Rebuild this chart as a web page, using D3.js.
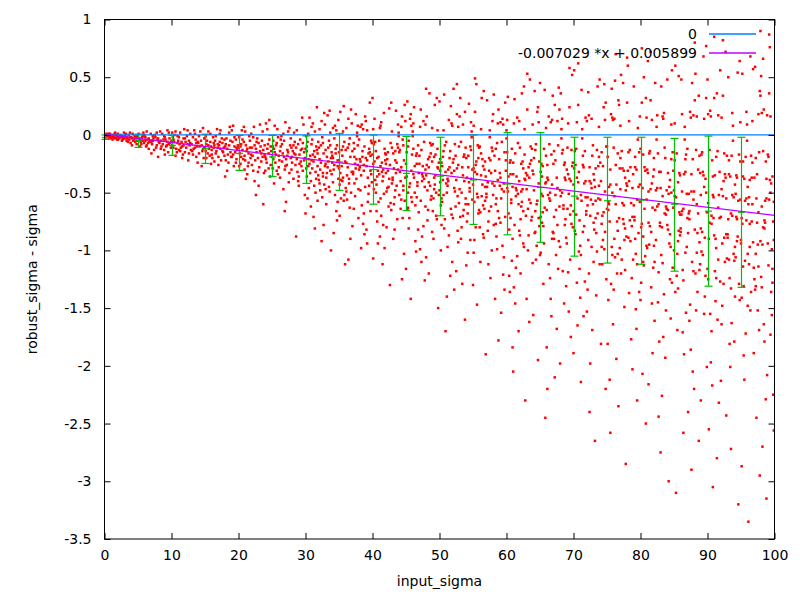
<!DOCTYPE html>
<html><head><meta charset="utf-8">
<script src="https://cdn.jsdelivr.net/npm/d3@7/dist/d3.min.js"></script>
<style>body{margin:0;background:#fff}svg{display:block}</style>
</head><body><svg id="chart" width="800" height="600"></svg>
<script>
// ---- data ----
const xTicks = [0,10,20,30,40,50,60,70,80,90,100];
const yTicks = [1,0.5,0,-0.5,-1,-1.5,-2,-2.5,-3,-3.5];
const xLabel = "input_sigma";
const yLabel = "robust_sigma - sigma";
const legendLabels = ["0", "-0.007029 *x + 0.005899"];
const zeroLevel = 0;
const fitSlope = -0.007029;
const fitIntercept = 0.005899;
const errX    = [0,5,10,15,20,25,30,35,40,45,50,55,60,65,70,75,80,85,90,95];
const errHigh = [0,0.007,-0.004,0.007,-0.004,-0.004,-0.008,0.013,0,-0.013,-0.02,0,0.02,0.02,-0.02,-0.02,-0.02,-0.03,-0.01,-0.02];
const errMid  = [-0.022,-0.05,-0.09,-0.12,-0.16,-0.19,-0.21,-0.235,-0.3,-0.333,-0.357,-0.39,-0.425,-0.455,-0.53,-0.57,-0.565,-0.6,-0.66,-0.67];
const errLow  = [-0.039,-0.108,-0.177,-0.247,-0.307,-0.36,-0.42,-0.48,-0.6,-0.655,-0.7,-0.775,-0.865,-0.93,-1.05,-1.11,-1.12,-1.18,-1.31,-1.32];
const points = [
[.1,0],[.4,-.01],[.6,.01],[1.2,-.02],[.9,-.01],[1.7,0],[2.2,-.03],[1.4,-.02],[3.1,-.01],[2.7,-.04],[.3,.01],[3.8,-.02],[4.6,-.06],[2,.01],[4.1,-.03],[3.3,-.05],[1,-.03],[4.9,-.01],[2.5,-.02],[3.6,0],[.7,-.02],[4.4,-.04],[1.9,-.04],[2.9,.02],[3.9,-.07],[1.5,.01],[4.7,-.03],[2.3,-.01],[.2,-.02],[3.4,-.03],[4.2,.01],[1.1,0],[2.6,-.05],[3,-.03],[4.8,-.08],[1.6,-.03],[.8,.01],[3.7,-.04],[2.1,-.02],[4.3,-.05],[1.3,-.01],[2.8,-.03],[4,-.02],[.5,-.01],[3.2,.01],[4.5,-.01],[1.8,-.02],[2.4,0],[3.5,-.06],[4.9,-.05],[.6,-.03],[2,-.04],[3.8,.02],[1.2,-.04],[4.1,-.09],[2.7,-.01],[.9,0],[3.3,-.02],[4.6,-.02],[1.6,.02],
[5.3,-.04],[7.8,-.09],[6.1,-.02],[9.4,-.06],[5.9,-.07],[8.6,.01],[7.2,-.05],[9.9,-.11],[6.6,-.03],[5.1,.01],[8.2,-.07],[7.5,0],[9.1,-.04],[6.3,-.09],[8.9,-.13],[5.6,-.02],[7,-.06],[9.6,.02],[6.8,-.05],[8,-.03],[5.4,-.06],[9.3,-.09],[7.7,-.11],[6,-.01],[8.4,-.05],[5.8,.02],[9.8,-.07],[7.3,-.03],[6.5,-.07],[8.7,-.08],[5.2,-.03],[9,-.02],[7.9,-.04],[6.2,-.1],[8.3,.03],[5.7,-.05],[9.5,-.15],[7.1,-.08],[6.9,.01],[8.8,-.04],[5,-.02],[9.2,-.1],[7.6,-.02],[6.4,-.04],[8.5,-.1],[5.5,-.08],[9.7,-.03],[7.4,-.13],[6.7,-.06],[8.1,-.06],[5.9,0],[9.4,.04],[7,-.16],[6.1,-.05],[8.9,-.01],[5.3,-.1],[9,-.17],[7.8,.02],[6.6,-.12],[8.4,-.12],[5.7,-.01],[9.6,-.08],[7.2,-.01],[6.3,.03],[8,-.19],
[12.4,-.08],[10.3,-.04],[14.7,-.12],[11.6,-.1],[13.2,-.02],[10.9,-.07],[14.1,-.16],[12.8,.01],[11.1,-.13],[13.9,-.06],[10.5,0],[14.5,-.09],[12,-.15],[11.8,-.03],[13.5,-.11],[10.1,-.09],[14.9,-.03],[12.6,-.05],[11.3,.02],[13.7,-.19],[10.7,-.12],[14.3,.03],[12.2,-.11],[11.5,-.06],[13,-.08],[10.2,-.02],[14.8,-.2],[12.9,-.13],[11,-.05],[13.4,.04],[10.8,-.15],[14,-.07],[12.3,-.01],[11.7,-.17],[13.6,-.04],[10.4,-.06],[14.6,-.14],[12.7,-.09],[11.2,-.08],[13.1,-.14],[10.6,.03],[14.2,-.1],[12.1,-.06],[11.9,.05],[13.8,-.1],[10,-.05],[14.4,-.05],[12.5,-.22],[11.4,-.11],[13.3,-.12],[10.9,-.01],[14.7,.06],[12,-.03],[11.6,-.2],[13.9,-.24],[10.3,-.11],[14.1,-.01],[12.8,-.07],[11.1,-.02],[13.5,.01],[10.6,-.18],[14.9,-.11],[12.4,.04],[11.8,-.09],[13.2,-.17],[10.1,.02],[14.5,-.27],[12.6,-.16],[11.3,-.14],[13.7,-.07],
[17.3,-.12],[15.8,-.06],[19.2,-.17],[16.4,-.09],[18.6,.02],[15.1,-.14],[17.9,-.04],[19.7,-.21],[16.9,-.11],[18.1,-.08],[15.5,.03],[17,-.19],[19.4,-.1],[16.2,-.02],[18.8,-.15],[15.9,-.1],[17.6,-.07],[19,.04],[16.6,-.16],[18.3,-.12],[15.3,-.05],[17.2,.01],[19.8,-.13],[16,-.13],[18.5,-.24],[15.7,-.18],[17.7,-.15],[19.1,-.06],[16.8,.05],[18,-.1],[15.2,-.08],[17.4,-.22],[19.6,-.04],[16.3,-.07],[18.9,-.19],[15.6,-.12],[17.1,-.09],[19.3,-.27],[16.7,-.14],[18.2,-.03],[15,-.03],[17.8,-.11],[19.9,-.09],[16.1,-.2],[18.7,.07],[15.4,-.16],[17.5,-.03],[19.5,-.15],[16.5,-.05],[18.4,-.17],[15.8,.01],[17,-.26],[19.2,.08],[16.9,-.08],[18.1,-.22],[15.2,-.2],[17.6,-.14],[19.7,-.11],[16.3,-.11],[18.6,-.09],[15.9,-.25],[17.3,.04],[19,-.19],[16.6,-.01],[18.3,-.31],[15.5,-.09],[17.9,-.18],[19.4,-.02],[16,-.17],[18.8,-.05],[15.1,-.01],[17.2,-.06],[19.6,-.24],[16.4,-.23],[18,-.36],
[22.7,-.15],[20.4,-.08],[24.1,-.21],[21.3,-.12],[23.6,.03],[20.9,-.18],[24.8,-.1],[22,-.26],[21.7,-.05],[23.2,-.14],[20.1,-.02],[24.5,-.29],[22.4,-.09],[21,-.22],[23.9,-.17],[20.6,-.13],[24.3,.05],[22.9,-.2],[21.5,-.16],[23,-.07],[20.3,-.25],[24.9,-.14],[22.2,-.31],[21.9,.01],[23.4,-.23],[20.8,-.06],[24,-.19],[22.6,-.12],[21.1,-.09],[23.8,-.33],[20,-.11],[24.6,-.04],[22.1,-.18],[21.4,-.27],[23.3,-.1],[20.5,.04],[24.2,-.24],[22.8,-.03],[21.8,-.2],[23.7,-.13],[20.2,-.16],[24.7,-.36],[22.3,.07],[21.2,-.14],[23.1,-.28],[20.7,-.21],[24.4,-.08],[22.5,-.22],[21.6,-.01],[23.5,-.05],[20.9,-.3],[24.1,.1],[22,-.11],[21.3,-.34],[23.9,-.09],[20.4,-.19],[24.8,-.26],[22.7,-.06],[21,.03],[23.6,-.19],[20.6,-.04],[24.5,-.16],[22.4,-.4],[21.7,-.11],[23.2,.09],[20.1,-.27],[24.3,-.12],[22.9,-.32],[21.5,-.24],[23,-.44],[20.8,.07],[24,-.31],[22.2,-.02],[21.9,-.17],[23.4,-.16],[20.3,-.1],[24.6,.13],[22.6,-.52],[21.1,-.38],[23.7,-.6],
[27.3,-.18],[25.6,-.09],[29.1,-.25],[26.2,-.14],[28.7,.04],[25.2,-.21],[27.9,-.11],[29.6,-.31],[26.8,-.05],[28.3,-.16],[25.9,-.02],[27,-.27],[29.3,-.13],[26.5,-.23],[28,-.19],[25.4,-.15],[27.6,.06],[29.8,-.22],[26,-.18],[28.9,-.08],[25.1,-.29],[27.4,-.15],[29,-.36],[26.7,.01],[28.5,-.26],[25.7,-.07],[27.1,-.21],[29.5,-.12],[26.3,-.1],[28.2,-.38],[25.3,-.12],[27.8,-.03],[29.9,-.2],[26.9,-.3],[28.6,-.11],[25.8,.05],[27.2,-.26],[29.2,-.04],[26.1,-.22],[28.1,-.14],[25,-.19],[27.5,-.41],[29.7,.09],[26.6,-.16],[28.8,-.32],[25.5,-.24],[27.7,-.09],[29.4,-.27],[26.4,-.01],[28.4,-.06],[25.9,-.34],[27,.11],[29.1,-.17],[26.2,-.37],[28.7,-.21],[25.2,-.05],[27.9,-.3],[29.6,-.07],[26.8,-.19],[28.3,.02],[25.6,-.17],[27.3,-.13],[29,-.44],[26.5,-.08],[28,-.24],[25.4,.08],[27.6,-.33],[29.8,-.15],[26,-.28],[28.9,-.4],[25.1,-.1],[27.4,.03],[29.3,-.23],[26.7,-.47],[28.5,-.17],[25.7,-.31],[27.1,-.58],[29.5,.15],[26.3,-.04],[28.2,-.09],[25.3,-.42],[27.8,-.2],[29.9,-.52],[26.9,-.66],[28.6,-.88],
[30.2,-.14],[33.7,-.31],[31.4,.03],[34.8,-.22],[32.1,-.42],[30.9,-.08],[33.2,-.19],[34.1,.06],[31.8,-.27],[32.6,-.36],[30.5,-.21],[34.5,-.12],[33,-.47],[31.1,-.17],[32.9,.09],[30.7,-.33],[34.3,-.26],[31.6,-.1],[33.5,-.05],[32.3,-.24],[30.1,-.29],[34.9,-.38],[31.3,-.44],[33.9,-.15],[32.5,-.02],[30.4,.01],[34,-.18],[31.9,-.35],[33.3,-.28],[32,-.11],[30.8,-.4],[34.6,.04],[31.2,-.23],[33.6,-.49],[32.7,-.16],[30.3,-.06],[34.2,-.3],[31.7,-.13],[33.1,-.37],[32.4,.12],[30.6,-.25],[34.7,-.09],[31.5,-.32],[33.8,-.2],[32.8,-.43],[30,-.12],[34.4,-.52],[31,-.04],[33.4,-.23],[32.2,-.3],[30.9,.07],[34.8,-.27],[31.8,-.57],[33,-.13],[32.6,-.07],[30.2,-.36],[34.1,-.41],[31.4,-.19],[33.7,.02],[32.1,-.21],[30.5,-.46],[34.5,-.16],[31.1,.1],[33.2,-.33],[32.9,-.27],[30.7,-.18],[34.3,-.03],[31.6,-.38],[33.5,-.45],[32.3,-.09],[30.4,-.27],[34.9,.13],[31.3,-.14],[33.9,-.34],[32.5,-.54],[30.1,-.01],[34,-.24],[31.9,-.06],[33.3,.17],[32,-.39],[30.8,-.62],[34.6,-.66],[31.2,-.71],[33.6,.21],[32.7,-.78],[30.3,-.55],[34.2,-.85],[31.7,.24],[33.1,-.6],[32.4,-.92],[30.6,.15],[34.7,-.74],[31.5,-.5],[33.8,-1],[32.8,.19],[30,-.68],[34.4,.08],[31,-.29],[33.4,-.11],[32.2,-.48],[30.9,-.22],[34.8,-.58],[31.8,-.16],[33,-.25],[32.6,-.33],[30.2,-.1],[34.1,-.2],[31.4,-.81],[33.7,-.09],[32.1,.05],
[37.3,-.19],[35.6,-.37],[39.2,.04],[38.7,-.26],[36.1,-.49],[37.8,-.09],[35,-.22],[38.2,.07],[39.7,-.31],[36.5,-.42],[37.4,-.25],[38.5,-.14],[35.3,-.55],[39,-.2],[36.9,.1],[37.6,-.38],[38,-.3],[39.5,-.12],[35.8,-.06],[36.3,-.28],[37.1,-.34],[38.9,-.45],[39.4,-.51],[35.5,-.18],[36.6,-.03],[37.7,.02],[38.1,-.21],[39.9,-.41],[35.2,-.33],[36,-.13],[37.9,-.47],[38.6,.05],[39.1,-.27],[35.7,-.57],[36.7,-.19],[37.2,-.07],[38.3,-.35],[39.6,-.15],[35.1,-.43],[36.4,.14],[37.5,-.29],[38.8,-.1],[39.3,-.37],[35.9,-.23],[36.8,-.5],[37,-.14],[38.4,-.61],[39.8,-.05],[35.4,-.27],[36.2,-.35],[37.8,.08],[38.7,-.31],[39.7,-.66],[35,-.15],[36.5,-.08],[37.3,-.42],[38.2,-.48],[39.2,-.22],[35.6,.03],[36.1,-.24],[37.4,-.53],[38.5,-.19],[39,.12],[35.3,-.39],[36.9,-.32],[37.6,-.21],[38,-.04],[39.5,-.44],[35.8,-.52],[36.3,-.11],[37.1,-.32],[38.9,.16],[39.4,-.16],[35.5,-.4],[36.6,-.63],[37.7,-.01],[38.1,-.28],[39.9,-.07],[35.2,.2],[36,-.46],[37.9,-.72],[38.6,-.77],[39.1,-.82],[35.7,.25],[36.7,-.9],[37.2,-.64],[38.3,-.98],[39.6,.28],[35.1,-.7],[36.4,-1.08],[37.5,.18],[38.8,-.86],[39.3,-.58],[35.9,-1.12],[36.8,.22],[37,-.79],[38.4,.09],[39.8,-.34],[35.4,-.13],[36.2,-.56],[37.8,-.26],[38.7,-.68],[39.7,-.18],[35,-.29],[36.5,-.38],[37.3,-.12],[38.2,-.23],[39.2,-.94],[35.6,-.1],[36.1,.06],
[43.4,-.22],[42.9,-.42],[40.1,.05],[41.6,-.3],[44.3,-.56],[43.8,-.11],[42,-.25],[41.2,.08],[40.7,-.36],[44.6,-.48],[43.2,-.29],[41.9,-.16],[42.4,-.62],[40.3,-.23],[44.9,.12],[43.6,-.44],[41,-.34],[40.5,-.14],[42.7,-.07],[44.1,-.32],[43,-.39],[41.7,-.51],[40.9,-.58],[42.2,-.21],[44.5,-.04],[43.9,.02],[41.4,-.24],[40.2,-.47],[42.5,-.38],[44,-.15],[43.3,-.54],[41.1,.06],[40.8,-.31],[42.8,-.65],[44.7,-.22],[43.7,-.08],[41.5,-.4],[40,-.17],[42.1,-.49],[44.4,.16],[43.5,-.33],[41.8,-.12],[40.6,-.43],[42.6,-.26],[44.8,-.57],[43.1,-.16],[41.3,-.7],[40.4,-.06],[42.3,-.31],[44.2,-.4],[43.8,.09],[41.6,-.36],[40.7,-.75],[42,-.17],[44.6,-.09],[43.4,-.48],[41.2,-.55],[40.1,-.25],[42.9,.03],[44.3,-.28],[43.2,-.6],[41.9,-.22],[40.3,.14],[42.4,-.45],[44.9,-.37],[43.6,-.24],[41,-.05],[40.5,-.5],[42.7,-.59],[44.1,-.13],[43,-.37],[41.7,.19],[40.9,-.19],[42.2,-.46],[44.5,-.72],[43.9,-.01],[41.4,-.32],[40.2,-.08],[42.5,.23],[44,-.52],[43.3,-.82],[41.1,-.88],[40.8,-.94],[42.8,.28],[44.7,-1.03],[43.7,-.73],[41.5,-1.12],[40,.32],[42.1,-.8],[44.4,-1.25],[43.5,.21],[41.8,-.98],[40.6,-.66],[42.6,-1.3],[44.8,.26],[43.1,-.9],[41.3,.11],[40.4,-.39],[42.3,-.15],[44.2,-.64],[43.8,-.3],[41.6,-.78],[40.7,-.2],[42,-.33],[44.6,-.44],[43.4,-.14],[41.2,-.27],[40.1,-1.07],[42.9,-.11],[44.3,.07],
[46.6,-.25],[49.2,-.47],[48.9,.06],[47.4,-.34],[45.3,-.63],[46.1,-.12],[49.7,-.28],[47.9,.09],[48.4,-.41],[45.8,-.54],[46.9,-.33],[47,-.18],[49.5,-.7],[48.1,-.26],[45.6,.14],[46.3,-.5],[47.7,-.38],[48.7,-.16],[49,-.08],[45.1,-.36],[46.7,-.44],[47.2,-.57],[48.3,-.65],[49.9,-.24],[45.4,-.05],[46,.03],[47.5,-.27],[48.8,-.53],[49.3,-.43],[45.9,-.17],[46.4,-.61],[47.1,.07],[48,-.35],[49.6,-.73],[45,-.25],[46.8,-.09],[47.8,-.45],[48.5,-.19],[49.1,-.55],[45.7,.18],[46.2,-.37],[47.3,-.13],[48.2,-.48],[49.8,-.29],[45.2,-.64],[46.5,-.18],[47.6,-.79],[48.6,-.07],[49.4,-.35],[45.5,-.45],[46.1,.1],[47.4,-.4],[48.9,-.84],[49.2,-.19],[45.3,-.1],[46.6,-.54],[47.9,-.62],[48.4,-.28],[49.7,.04],[45.8,-.31],[46.9,-.67],[47,-.25],[48.1,.16],[49.5,-.5],[45.6,-.42],[46.3,-.27],[47.7,-.06],[48.7,-.56],[49,-.66],[45.1,-.15],[46.7,-.41],[47.2,.22],[48.3,-.21],[49.9,-.52],[45.4,-.81],[46,-.01],[47.5,-.36],[48.8,-.09],[49.3,.26],[45.9,-.58],[46.4,-.92],[47.1,-.99],[48,-1.06],[49.6,.32],[45,-1.16],[46.8,-.82],[47.8,-1.26],[48.5,.36],[49.1,-.9],[45.7,-1.42],[46.2,.24],[47.3,-1.1],[48.2,-.74],[49.8,-1.5],[45.2,.29],[46.5,-1.01],[47.6,.12],[48.6,-.44],[49.4,-.17],[45.5,-.72],[46.1,-.34],[47.4,-.88],[48.9,-.23],[49.2,-.37],[45.3,-.5],[46.6,-.16],[47.9,-.3],[48.4,-1.2],[49.7,-.12],[45.8,.08],[48,.4],
[54.3,-.28],[50.6,-.52],[52.8,.07],[51.2,-.38],[53.5,-.7],[54.7,-.13],[50.1,-.31],[51.8,.1],[52.2,-.46],[53.9,-.6],[54.1,-.37],[51.5,-.2],[50.3,-.78],[52.6,-.29],[53,.16],[54.9,-.56],[51,-.42],[52.4,-.18],[50.8,-.09],[53.7,-.4],[54.5,-.49],[51.7,-.64],[52,-.72],[50.4,-.27],[53.2,-.06],[54.8,.03],[51.3,-.3],[52.9,-.59],[50,-.48],[53.6,-.19],[54.2,-.68],[51.9,.08],[52.5,-.39],[50.7,-.81],[53.4,-.28],[54.6,-.1],[51.1,-.5],[52.1,-.21],[50.2,-.61],[53.8,.2],[54.4,-.41],[51.6,-.14],[52.7,-.53],[50.9,-.32],[53.1,-.71],[54,-.2],[51.4,-.87],[52.3,-.08],[50.5,-.39],[53.3,-.5],[54.7,.11],[51.2,-.44],[52.8,-.93],[50.1,-.21],[53.9,-.11],[54.3,-.6],[51.8,-.69],[52.2,-.31],[50.6,.04],[53.5,-.35],[54.1,-.75],[51.5,-.28],[52.6,.18],[50.3,-.55],[53,-.47],[54.9,-.3],[51,-.06],[52.4,-.62],[50.8,-.73],[53.7,-.17],[54.5,-.46],[51.7,.25],[52,-.24],[50.4,-.58],[53.2,-.9],[54.8,-.02],[51.3,-.4],[52.9,-.1],[50,.29],[53.6,-.65],[54.2,-1.02],[51.9,-1.1],[52.5,-1.18],[50.7,.35],[53.4,-1.29],[54.6,-.91],[51.1,-1.4],[52.1,.4],[50.2,-1],[53.8,-1.6],[54.4,.27],[51.6,-1.22],[52.7,-.83],[50.9,-1.7],[53.1,.32],[54,-1.13],[51.4,.13],[52.3,-.49],[50.5,-.19],[53.3,-.8],[54.7,-.38],[51.2,-.97],[52.8,-.26],[50.1,-.41],[53.9,-.55],[54.3,-.18],[51.8,-.33],[52.2,-1.34],[50.6,-.14],[53.5,.09],[52.6,.44],[50.3,-.24],
[57.4,-.31],[56.8,-.57],[55.1,.08],[59.6,-.42],[58.4,-.77],[57.9,-.14],[56.2,-.35],[59.1,.11],[55.6,-.51],[58.7,-.66],[57.2,-.41],[59.9,-.22],[56.5,-.86],[55.3,-.32],[58,.18],[57.7,-.62],[59.3,-.47],[55.8,-.2],[56,-.1],[58.2,-.44],[57,-.54],[59.8,-.71],[55.4,-.8],[56.7,-.3],[58.6,-.07],[57.5,.04],[59,-.33],[55.9,-.65],[56.3,-.53],[58.9,-.21],[57.3,-.75],[59.5,.09],[55,-.43],[56.6,-.89],[58.3,-.31],[57.8,-.11],[59.2,-.55],[55.5,-.23],[56.1,-.67],[58.8,.22],[57.1,-.45],[59.7,-.15],[55.2,-.58],[56.9,-.36],[58.1,-.78],[57.6,-.22],[59.4,-.96],[55.7,-.09],[56.4,-.43],[58.5,-.55],[57.9,.12],[59.6,-.49],[55.1,-1.02],[56.8,-.23],[58.4,-.12],[57.4,-.66],[59.1,-.76],[55.6,-.34],[56.2,.05],[58.7,-.39],[57.2,-.83],[59.9,-.31],[55.3,.2],[56.5,-.61],[58,-.52],[57.7,-.33],[59.3,-.06],[55.8,-.68],[56,-.8],[58.2,-.18],[57,-.51],[59.8,.28],[55.4,-.26],[56.7,-.64],[58.6,-.99],[57.5,-.02],[59,-.44],[55.9,-.11],[56.3,.32],[58.9,-.72],[57.3,-1.12],[59.5,-1.21],[55,-1.3],[56.6,.38],[58.3,-1.42],[57.8,-1],[59.2,-1.54],[55.5,.44],[56.1,-1.1],[58.8,-1.78],[57.1,.3],[59.7,-1.34],[55.2,-.91],[56.9,-1.9],[58.1,.35],[57.6,-1.24],[59.4,.14],[55.7,-.54],[56.4,-.21],[58.5,-.88],[57.9,-.42],[59.6,-1.06],[55.1,-.29],[56.8,-.45],[58.4,-.6],[57.4,-.2],[59.1,-.37],[55.6,-1.47],[56.2,-.16],[58.7,.1],[55.3,.49],[56.5,-.27],
[60.6,-.34],[62.2,-.62],[63.9,.09],[61.4,-.46],[64.3,-.84],[60.1,-.15],[62.7,-.38],[61.9,.12],[63.4,-.56],[64.8,-.72],[60.9,-.45],[61,-.24],[62.5,-.94],[63.1,-.35],[64.6,.2],[60.3,-.68],[61.7,-.51],[63.7,-.22],[62,-.11],[64.1,-.48],[60.7,-.59],[61.2,-.78],[63.3,-.87],[62.9,-.33],[64.4,-.08],[60,.04],[61.5,-.36],[63.8,-.71],[62.3,-.58],[64.9,-.23],[60.4,-.82],[61.1,.1],[63,-.47],[62.6,-.97],[64,-.34],[60.8,-.12],[61.8,-.6],[63.5,-.25],[62.1,-.73],[64.7,.24],[60.2,-.49],[61.3,-.16],[63.2,-.64],[62.8,-.39],[64.2,-.85],[60.5,-.24],[61.6,-1.05],[63.6,-.1],[62.4,-.47],[64.5,-.6],[60.1,.13],[61.4,-.53],[63.9,-1.11],[62.2,-.25],[64.3,-.13],[60.6,-.72],[61.9,-.83],[63.4,-.37],[62.7,.05],[64.8,-.42],[60.9,-.9],[61,-.34],[63.1,.22],[62.5,-.66],[64.6,-.57],[60.3,-.36],[61.7,-.07],[63.7,-.74],[62,-.87],[64.1,-.2],[60.7,-.56],[61.2,.31],[63.3,-.28],[62.9,-.7],[64.4,-1.08],[60,-.03],[61.5,-.48],[63.8,-.12],[62.3,.36],[64.9,-.79],[60.4,-1.22],[61.1,-1.32],[63,-1.42],[62.6,.42],[64,-1.56],[60.8,-1.09],[61.8,-1.7],[63.5,.48],[62.1,-1.2],[64.7,-1.95],[60.2,.33],[61.3,-1.46],[63.2,-1],[62.8,-2.3],[64.2,.38],[60.5,-1.36],[61.6,.15],[63.6,-.59],[62.4,-.23],[64.5,-.96],[60.1,-.46],[61.4,-1.15],[63.9,-.31],[62.2,-.49],[64.3,-.66],[60.6,-.22],[61.9,-.4],[63.4,-1.62],[62.7,-.17],[64.8,.11],[63.1,.53],[62.5,-.29],[60.9,-1.84],[61,-2.05],
[68.7,-.37],[65.4,-.67],[69.2,.1],[66.5,-.5],[67.1,-.9],[68.3,-.16],[65.9,-.41],[66.8,.13],[69.6,-.61],[67.6,-.78],[68,-.48],[66.1,-.26],[65.1,-1.02],[69.4,-.38],[67.9,.22],[68.8,-.73],[66.4,-.55],[69.9,-.24],[65.6,-.12],[67.3,-.52],[68.5,-.64],[66.9,-.84],[69,-.94],[65.3,-.36],[67.7,-.09],[68.2,.05],[66.2,-.39],[69.7,-.77],[65.7,-.63],[67,-.25],[68.9,-.89],[66.6,.11],[69.3,-.51],[65,-1.04],[67.5,-.37],[68.4,-.13],[66,-.65],[69.8,-.27],[65.5,-.79],[67.2,.26],[68.1,-.53],[66.7,-.17],[69.5,-.69],[65.8,-.42],[67.8,-.92],[68.6,-.26],[66.3,-1.12],[69.1,-.11],[65.2,-.51],[67.4,-.65],[68.3,.14],[66.5,-.57],[69.2,-1.19],[65.4,-.27],[67.1,-.14],[68.7,-.78],[66.8,-.9],[69.6,-.4],[65.9,.06],[67.6,-.46],[68,-.97],[66.1,-.37],[69.4,.24],[65.1,-.71],[67.9,-.62],[68.8,-.39],[66.4,-.08],[69.9,-.8],[65.6,-.94],[67.3,-.22],[68.5,-.61],[66.9,.34],[69,-.3],[65.3,-.76],[67.7,-1.16],[68.2,-.03],[66.2,-.52],[69.7,-.13],[65.7,.39],[67,-.85],[68.9,-1.31],[66.6,-1.42],[69.3,-1.53],[65,.45],[67.5,-1.68],[68.4,-1.18],[66,-1.84],[69.8,.52],[65.5,-1.29],[67.2,-2.1],[68.1,.36],[66.7,-1.57],[69.5,-1.08],[65.8,-2.45],[67.8,.41],[68.6,-1.46],[66.3,.16],[69.1,-.64],[65.2,-.25],[67.4,-1.04],[68.3,-.5],[66.5,-1.24],[69.2,-.34],[65.4,-.53],[67.1,-.71],[68.7,-.24],[66.8,-.43],[69.6,-1.75],[65.9,-.18],[67.6,.12],[69.4,.58],[65.1,-.32],[68,-1.98],[66.1,-2.2],
[71.8,-.4],[73.3,-.72],[70.5,.11],[72.1,-.54],[74.2,-.97],[71.4,-.18],[73.8,-.44],[72.7,.14],[70,-.66],[74.7,-.84],[71.1,-.52],[72.4,-.28],[73,-1.1],[70.7,-.41],[74.5,.24],[71.6,-.79],[72.9,-.6],[70.3,-.26],[73.5,-.13],[74,-.56],[71.9,-.69],[72.2,-.91],[70.8,-1.01],[73.1,-.39],[74.9,-.1],[71.3,.05],[72.6,-.42],[70.2,-.83],[73.6,-.68],[74.4,-.27],[71,-.96],[72,.12],[70.6,-.55],[73.9,-1.12],[74.1,-.4],[71.7,-.14],[72.5,-.7],[70.1,-.29],[73.4,-.85],[74.8,.28],[71.2,-.57],[72.8,-.18],[70.9,-.74],[73.2,-.45],[74.6,-.99],[71.5,-.28],[72.3,-1.2],[70.4,-.12],[73.7,-.55],[74.3,-.7],[71.8,.15],[72.1,-.61],[70.5,-1.28],[73.3,-.29],[74.2,-.15],[71.4,-.84],[72.7,-.97],[70,-.43],[73.8,.07],[74.7,-.49],[71.1,-1.04],[72.4,-.4],[70.7,.26],[73,-.76],[74.5,-.67],[71.6,-.42],[72.9,-.09],[70.3,-.86],[73.5,-1.01],[74,-.24],[71.9,-.66],[72.2,.37],[70.8,-.32],[73.1,-.82],[74.9,-1.25],[71.3,-.03],[72.6,-.56],[70.2,-.14],[73.6,.42],[74.4,-.91],[71,-1.41],[72,-1.53],[70.6,-1.65],[73.9,.48],[74.1,-1.81],[71.7,-1.27],[72.5,-1.98],[70.1,.56],[73.4,-1.39],[74.8,-2.2],[71.2,.39],[72.8,-1.69],[70.9,-1.16],[73.2,-2.65],[74.6,.44],[71.5,-1.57],[72.3,.17],[70.4,-.69],[73.7,-.27],[74.3,-1.12],[71.8,-.54],[72.1,-1.34],[70.5,-.37],[73.3,-.57],[74.2,-.77],[71.4,-.26],[72.7,-.46],[70,-1.89],[73.8,-.19],[74.7,.13],[70.7,.62],[73,-.34],[71.1,-2.14],[72.4,-2.4],
[79.9,-.43],[77.5,-.77],[78.3,.12],[75.2,-.58],[76.6,-1.03],[79.2,-.19],[77,-.47],[75.8,.15],[78.8,-.71],[76.1,-.9],[79.5,-.56],[75.5,-.3],[77.7,-1.17],[78,-.44],[76.8,.26],[79.7,-.85],[75,-.64],[78.5,-.28],[77.2,-.14],[76.3,-.6],[79.1,-.74],[75.7,-.97],[78.9,-1.08],[77.9,-.42],[76,-.11],[79.6,.06],[75.3,-.45],[78.2,-.89],[77.4,-.73],[76.9,-.29],[79.3,-1.03],[75.9,.13],[78.6,-.59],[77.1,-1.2],[76.4,-.43],[79.8,-.15],[75.4,-.75],[78.1,-.31],[77.6,-.91],[76.7,.3],[79,-.61],[75.1,-.19],[78.7,-.79],[77.8,-.48],[76.2,-1.06],[79.4,-.3],[75.6,-1.29],[78.4,-.13],[77.3,-.59],[76.5,-.75],[79.9,.16],[75.2,-.65],[78.3,-1.37],[77.5,-.31],[76.6,-.16],[79.2,-.9],[75.8,-1.04],[78.8,-.46],[77,.08],[76.1,-.53],[79.5,-1.12],[75.5,-.43],[78,.28],[77.7,-.81],[76.8,-.72],[79.7,-.45],[75,-.1],[78.5,-.92],[77.2,-1.08],[76.3,-.26],[79.1,-.71],[75.7,.4],[78.9,-.34],[77.9,-.88],[76,-1.34],[79.6,-.04],[75.3,-.6],[78.2,-.15],[77.4,.45],[76.9,-.98],[79.3,-1.51],[75.9,-1.64],[78.6,-1.77],[77.1,.52],[76.4,-1.94],[79.8,-1.36],[75.4,-2.12],[78.1,.6],[77.6,-1.49],[76.7,-2.35],[79,.42],[75.1,-1.81],[78.7,-1.24],[77.8,-2.85],[76.2,.47],[79.4,-1.68],[75.6,.18],[78.4,-.74],[77.3,-.29],[76.5,-1.2],[79.9,-.58],[75.2,-1.43],[78.3,-.4],[77.5,-.61],[76.6,-.83],[79.2,-.28],[75.8,-.5],[78.8,-2.03],[77,-.2],[76.1,.14],[78,.67],[77.7,-.37],[79.5,-2.3],[75.5,-2.58],[76.3,.7],
[82.5,-.46],[84.1,-.82],[81.7,.13],[83.8,-.62],[80.4,-1.1],[82,-.2],[84.6,-.5],[83.3,.16],[81.2,-.76],[80.9,-.96],[82.7,-.6],[83,-.32],[84.4,-1.25],[81.5,-.47],[80.2,.28],[82.3,-.91],[83.6,-.68],[81,-.3],[84.8,-.15],[80.6,-.64],[82.9,-.79],[83.1,-1.04],[81.9,-1.15],[84.3,-.45],[80,-.12],[82.4,.07],[83.9,-.48],[81.3,-.95],[84,-.78],[80.7,-.31],[82.1,-1.1],[83.4,.14],[81.8,-.63],[84.7,-1.28],[80.3,-.46],[82.6,-.16],[83.2,-.8],[81.1,-.33],[84.5,-.97],[80.8,.32],[82.2,-.65],[83.7,-.2],[81.6,-.84],[84.2,-.51],[80.5,-1.13],[82.8,-.32],[83.5,-1.38],[81.4,-.14],[84.9,-.63],[80.1,-.8],[82.5,.17],[83.8,-.69],[81.7,-1.46],[84.1,-.33],[80.4,-.17],[82,-.96],[83.3,-1.11],[81.2,-.49],[84.6,.09],[80.9,-.56],[82.7,-1.19],[83,-.46],[81.5,.3],[84.4,-.86],[80.2,-.77],[82.3,-.48],[83.6,-.11],[81,-.98],[84.8,-1.15],[80.6,-.28],[82.9,-.76],[83.1,.42],[81.9,-.36],[84.3,-.94],[80,-1.43],[82.4,-.04],[83.9,-.64],[81.3,-.16],[84,.48],[80.7,-1.05],[82.1,-1.61],[83.4,-1.75],[81.8,-1.89],[84.7,.56],[80.3,-2.07],[82.6,-1.45],[83.2,-2.26],[81.1,.64],[84.5,-1.59],[80.8,-2.5],[82.2,.45],[83.7,-1.93],[81.6,-1.32],[84.2,-3],[80.5,.5],[82.8,-1.79],[83.5,.19],[81.4,-.79],[84.9,-.31],[80.1,-1.28],[82.5,-.62],[83.8,-1.52],[81.7,-.42],[84.1,-.65],[80.4,-.88],[82,-.3],[83.3,-.53],[81.2,-2.16],[84.6,-.21],[80.9,.15],[81.5,.72],[84.4,-.39],[82.7,-2.44],[83,-2.75],[80.2,.75],
[86.2,-.49],[85.9,-.87],[89.5,.14],[87.3,-.66],[88.8,-1.17],[86.7,-.21],[85.1,-.53],[87.9,.17],[89,-.81],[88.4,-1.02],[86.4,-.64],[87.6,-.34],[85.6,-1.33],[89.8,-.5],[88.1,.3],[86.9,-.97],[87,-.72],[89.3,-.32],[85.4,-.16],[88.6,-.68],[86,-.84],[87.7,-1.1],[89.7,-1.22],[85,-.48],[88.3,-.13],[86.6,.07],[87.2,-.51],[89.1,-1.01],[85.7,-.83],[88.9,-.33],[86.3,-1.17],[87.5,.15],[89.9,-.67],[85.2,-1.36],[88,-.49],[86.8,-.17],[87.1,-.85],[89.4,-.35],[85.5,-1.03],[88.7,.34],[86.1,-.69],[87.8,-.21],[89.6,-.89],[85.3,-.54],[88.2,-1.2],[86.5,-.34],[87.4,-1.47],[89.2,-.15],[85.8,-.67],[88.5,-.85],[86.2,.18],[87.3,-.73],[89.5,-1.55],[85.9,-.35],[88.8,-.18],[86.7,-1.02],[87.9,-1.18],[89,-.52],[85.1,.1],[88.4,-.6],[86.4,-1.26],[87.6,-.49],[89.8,.32],[85.6,-.92],[88.1,-.82],[86.9,-.51],[87,-.12],[89.3,-1.04],[85.4,-1.22],[88.6,-.3],[86,-.81],[87.7,.45],[89.7,-.38],[85,-1],[88.3,-1.52],[86.6,-.04],[87.2,-.68],[89.1,-.17],[85.7,.51],[88.9,-1.12],[86.3,-1.71],[87.5,-1.86],[89.9,-2.01],[85.2,.6],[88,-2.2],[86.8,-1.54],[87.1,-2.4],[89.4,.68],[85.5,-1.69],[88.7,-2.65],[86.1,.48],[87.8,-2.05],[89.6,-1.4],[85.3,-3.1],[88.2,.53],[86.5,-1.9],[87.4,.2],[89.2,-.84],[85.8,-.33],[88.5,-1.36],[86.2,-.66],[87.3,-1.61],[89.5,-.45],[85.9,-.69],[88.8,-.93],[86.7,-.32],[87.9,-.56],[89,-2.3],[85.1,-.22],[88.4,.16],[89.8,.77],[85.6,-.41],[86.4,-2.58],[87.6,-2.9],[88.1,.8],
[93.7,-.52],[94.4,-.92],[92.1,.15],[90.6,-.7],[91.3,-1.24],[93.2,-.22],[94.9,-.56],[90.1,.18],[92.8,-.86],[91.6,-1.08],[93.5,-.68],[90.8,-.36],[94.1,-1.4],[92.3,-.53],[91,.32],[93.9,-1.03],[90.3,-.76],[92.6,-.34],[94.7,-.17],[91.8,-.72],[93,-.89],[90,-1.16],[92.4,-1.29],[94.2,-.51],[91.5,-.14],[93.8,.08],[90.9,-.54],[92.9,-1.07],[94.5,-.88],[91.1,-.35],[93.3,-1.24],[90.5,.16],[92,-.71],[94.8,-1.43],[91.7,-.52],[93.6,-.18],[90.2,-.9],[92.7,-.37],[94,-1.09],[91.4,.36],[93.1,-.73],[90.7,-.22],[92.2,-.94],[94.6,-.57],[91.9,-1.27],[93.4,-.36],[90.4,-1.55],[92.5,-.16],[94.3,-.71],[91.2,-.9],[93.7,.19],[90.6,-.77],[92.1,-1.64],[94.4,-.37],[91.3,-.19],[93.2,-1.08],[90.1,-1.25],[92.8,-.55],[94.9,.11],[91.6,-.63],[93.5,-1.33],[90.8,-.52],[92.3,.34],[94.1,-.97],[91,-.87],[93.9,-.54],[90.3,-.13],[92.6,-1.1],[94.7,-1.29],[91.8,-.32],[93,-.86],[90,.48],[92.4,-.4],[94.2,-1.06],[91.5,-1.6],[93.8,-.05],[90.9,-.72],[92.9,-.18],[94.5,.54],[91.1,-1.18],[93.3,-1.81],[90.5,-1.97],[92,-2.13],[94.8,.64],[91.7,-2.32],[93.6,-1.63],[90.2,-2.55],[92.7,.72],[94,-1.79],[91.4,-2.8],[93.1,.5],[90.7,-2.17],[92.2,-1.48],[94.6,-3.2],[91.9,.56],[93.4,-2.01],[90.4,.21],[92.5,-.89],[94.3,-.35],[91.2,-1.44],[93.7,-.7],[90.6,-1.7],[92.1,-.47],[94.4,-.73],[91.3,-.98],[93.2,-.34],[90.1,-.59],[92.8,-2.43],[94.9,-.23],[91.6,.17],[92.3,.82],[94.1,-.43],[93.5,-2.72],[90.8,-3.05],[91,.85],
[95.8,-.55],[96.3,-.97],[99.4,.16],[98.5,-.74],[97.2,-1.31],[95.3,-.23],[96.7,-.6],[98.1,.19],[99.9,-.91],[97.6,-1.14],[95.1,-.72],[98.8,-.38],[96,-1.48],[99.2,-.56],[97.9,.34],[95.6,-1.09],[98.3,-.8],[99.7,-.36],[96.5,-.18],[97.4,-.76],[95,-.94],[98,-1.23],[99.5,-1.36],[96.2,-.54],[97.7,-.15],[95.9,.09],[98.6,-.57],[99.1,-1.13],[96.8,-.93],[97,-.37],[95.4,-1.31],[98.9,.17],[99.8,-.75],[96.4,-1.52],[97.3,-.55],[95.7,-.19],[98.2,-.95],[99.3,-.39],[96.9,-1.15],[97.8,.38],[95.2,-.77],[98.7,-.23],[99.6,-.99],[96.1,-.6],[97.1,-1.34],[95.5,-.38],[98.4,-1.64],[99,-.17],[96.6,-.75],[97.5,-.95],[95.8,.2],[98.5,-.81],[99.4,-1.73],[96.3,-.39],[97.2,-.2],[95.3,-1.14],[98.1,-1.32],[99.9,-.58],[96.7,.12],[97.6,-.67],[95.1,-1.41],[98.8,-.55],[99.2,.36],[96,-1.03],[97.9,-.92],[95.6,-.57],[98.3,-.14],[99.7,-1.16],[96.5,-1.36],[97.4,-.34],[95,-.91],[98,.51],[99.5,-.42],[96.2,-1.12],[97.7,-1.69],[95.9,-.05],[98.6,-.76],[99.1,-.19],[96.8,.57],[97,-1.25],[95.4,-1.91],[98.9,-2.08],[99.8,-2.25],[96.4,.68],[97.3,-2.45],[95.7,-1.72],[98.2,-2.7],[99.3,.76],[96.9,-1.89],[97.8,-2.95],[95.2,.53],[98.7,-2.29],[99.6,-1.56],[96.1,-3.35],[97.1,.59],[95.5,-2.12],[98.4,.22],[99,-.94],[96.6,-.37],[97.5,-1.52],[95.8,-.74],[98.5,-1.79],[99.4,-.5],[96.3,-.77],[97.2,-1.03],[95.3,-.36],[98.1,-.62],[99.9,-2.56],[96.7,-.24],[97.6,.18],[99.2,.87],[96,-.45],[95.1,-2.87],[98.8,-3.15],[97.9,.9],[98.3,.66],[99.7,-1.28]
];

// ---- drawing ----
const W = 800, H = 600;
const M = {left:104.5, right:774.5, top:19.5, bottom:539};
const FONT = "DejaVu Sans";
const DOT = 2.5;
const svg = d3.select("#chart");
svg.append("rect").attr("width",W).attr("height",H).attr("fill","#fff");

const x = d3.scaleLinear().domain([0,100]).range([M.left, M.right]);
const y = d3.scaleLinear().domain([-3.5,1]).range([M.bottom, M.top]);

svg.append("defs").append("clipPath").attr("id","clip")
  .append("rect").attr("x",M.left).attr("y",M.top)
  .attr("width",M.right-M.left).attr("height",M.bottom-M.top);

// points
svg.append("g").attr("clip-path","url(#clip)")
  .selectAll("rect").data(points).join("rect")
  .attr("x", d => x(d[0]) - DOT/2)
  .attr("y", d => y(d[1]) - DOT/2)
  .attr("width", DOT).attr("height", DOT)
  .attr("fill", "#ff0000");

// error bars
const eb = svg.append("g").attr("stroke","#00c000").attr("stroke-width",1.2).attr("fill","none");
errX.forEach((xv,i) => {
  const cx = Math.round(x(xv)) + 0.5;
  eb.append("line").attr("x1",cx).attr("x2",cx).attr("y1",y(errHigh[i])).attr("y2",y(errLow[i]));
  [errHigh[i], errLow[i]].forEach(v => {
    eb.append("line").attr("x1",cx-4).attr("x2",cx+4).attr("y1",y(v)).attr("y2",y(v));
  });
  eb.append("line").attr("x1",cx-3.5).attr("x2",cx+3.5).attr("y1",y(errMid[i])).attr("y2",y(errMid[i]));
});

// zero line
svg.append("line")
  .attr("x1",x(0)).attr("x2",x(100)).attr("y1",y(zeroLevel)).attr("y2",y(zeroLevel))
  .attr("stroke","#0080ff").attr("stroke-width",1.3);

// fit line
const fit = v => fitSlope*v + fitIntercept;
svg.append("line")
  .attr("x1",x(0)).attr("x2",x(100)).attr("y1",y(fit(0))).attr("y2",y(fit(100)))
  .attr("stroke","#c000ff").attr("stroke-width",1.3);

// axes
function styleAxis(g){
  g.select(".domain").remove();
  g.selectAll("line").attr("stroke","#000").attr("stroke-width",1);
  g.selectAll("text").attr("font-family",FONT).attr("font-size",14).attr("fill","#000");
  g.attr("font-family",FONT);
}
svg.append("g").attr("transform",`translate(0,${M.bottom})`)
  .call(d3.axisBottom(x).tickValues(xTicks).tickSize(-6).tickPadding(11).tickFormat(d=>String(d)))
  .call(styleAxis);
svg.append("g").attr("transform",`translate(0,${M.top})`)
  .call(d3.axisTop(x).tickValues(xTicks).tickSize(-6).tickFormat(""))
  .call(styleAxis);
svg.append("g").attr("transform",`translate(${M.left},0)`)
  .call(d3.axisLeft(y).tickValues(yTicks).tickSize(-6).tickPadding(13).tickFormat(d=>String(d)))
  .call(styleAxis);
svg.append("g").attr("transform",`translate(${M.right},0)`)
  .call(d3.axisRight(y).tickValues(yTicks).tickSize(-6).tickFormat(""))
  .call(styleAxis);

// frame
svg.append("rect").attr("x",M.left).attr("y",M.top)
  .attr("width",M.right-M.left).attr("height",M.bottom-M.top)
  .attr("fill","none").attr("stroke","#000").attr("stroke-width",1);

// axis labels
svg.append("text").attr("x",(M.left+M.right)/2).attr("y",586)
  .attr("text-anchor","middle").attr("font-family",FONT).attr("font-size",14).text(xLabel);
svg.append("text").attr("transform",`translate(37,${(M.top+M.bottom)/2}) rotate(-90)`)
  .attr("text-anchor","middle").attr("font-family",FONT).attr("font-size",14).text(yLabel);

// legend
const legendColors = ["#0080ff","#c000ff"];
legendLabels.forEach((t,i) => {
  const ly = 34 + i*19;
  svg.append("text").attr("x",697).attr("y",ly+4.8).attr("text-anchor","end")
    .attr("font-family",FONT).attr("font-size",14).text(t);
  svg.append("line").attr("x1",709).attr("x2",756).attr("y1",ly).attr("y2",ly)
    .attr("stroke",legendColors[i]).attr("stroke-width",1.3);
});
</script>
</body></html>
